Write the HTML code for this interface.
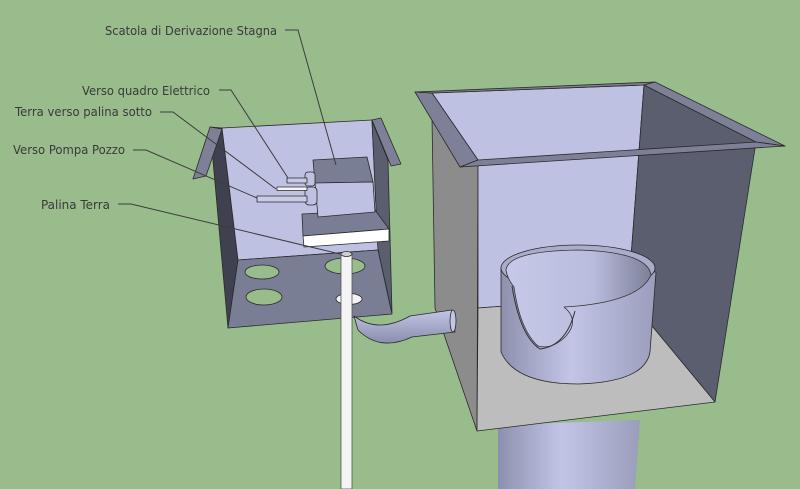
<!DOCTYPE html>
<html><head><meta charset="utf-8"><style>html,body{margin:0;padding:0;background:#98bc8c}svg{display:block}</style></head>
<body>
<svg width="800" height="489" viewBox="0 0 800 489" xmlns="http://www.w3.org/2000/svg">
<defs>
<linearGradient id="cyl" x1="0" x2="1" y1="0" y2="0">
<stop offset="0" stop-color="#8d90ad"/><stop offset="0.45" stop-color="#c2c5e6"/><stop offset="1" stop-color="#9a9dbb"/></linearGradient>
<linearGradient id="cyl2" x1="0" x2="1" y1="0" y2="0">
<stop offset="0" stop-color="#c6c9e8"/><stop offset="0.6" stop-color="#b9bcdc"/><stop offset="1" stop-color="#7d8098"/></linearGradient>
<linearGradient id="hose" x1="0" x2="0" y1="0" y2="1">
<stop offset="0" stop-color="#c3c6e6"/><stop offset="1" stop-color="#8a8dac"/></linearGradient>
</defs>
<rect width="800" height="489" fill="#98bc8c"/>
<g stroke="#2a2a2a" stroke-width="0.8" stroke-linejoin="round">
<!-- right big box -->
<polygon points="498,425 640,420 635,489 498,489" fill="url(#cyl)" stroke="none"/>
<polygon points="432,118 478,165 477,431 435,308" fill="#8c8c8c"/>
<polygon points="432,93 644,85 628,297 478,308 478,160" fill="#bec1e2"/>
<polygon points="644,85 756,142 715,402 628,297" fill="#5b5e6e"/>
<polygon points="478,308 628,297 715,402 477,431" fill="#bdbdbd"/>
<!-- rim strips -->
<polygon points="415,92 432,93 478,160 460,167" fill="#7d8097"/>
<polygon points="415,92 655,82 644,85 432,93" fill="#7d8097"/>
<polygon points="655,82 785,146 756,142 644,85" fill="#7d8097"/>
<polygon points="460,167 478,160 756,142 785,146" fill="#7d8097"/>
<!-- cylinder in box -->
<path d="M501,268 L501,352 Q515,384 578,384 Q645,382 650,352 L656,272 Z" fill="url(#cyl)"/>
<ellipse cx="578" cy="268" rx="77" ry="23" fill="#a9acca"/>
<path d="M506,270 Q508,251 578,250 Q648,252 651,275 Q640,300 578,306 L564,307 Q580,320 566,336 Q552,350 538,346 Q520,330 514,287 Q507,278 506,270 Z" fill="url(#cyl2)" stroke="#333"/>
<path d="M512,286 Q520,336 540,349 Q566,346 575,311" fill="none" stroke="#333" stroke-width="1"/>
<!-- left box -->
<polygon points="210,127 222,128 238,260 228,328" fill="#3f4150"/>
<polygon points="222,128 372,120 378,250 238,260" fill="#bec1e2"/>
<polygon points="372,121 388,160 392,313 378,250" fill="#5b5e6e"/>
<polygon points="210,127 222,129 206,176 193,179" fill="#7d8097"/>
<polygon points="372,120 381,118 401,164 391,166" fill="#7d8097"/>
<polygon points="238,260 378,250 392,314 228,328" fill="#7a7e95"/>
<ellipse cx="262" cy="272" rx="17" ry="7" fill="#98bc8c"/>
<ellipse cx="345" cy="266" rx="20" ry="8" fill="#98bc8c"/>
<ellipse cx="264" cy="297" rx="18" ry="8" fill="#98bc8c"/>
<ellipse cx="349" cy="299" rx="13" ry="5.5" fill="#f4f4f4"/>
<!-- pole -->
<rect x="341" y="253" width="11" height="236" fill="#f4f4f4" stroke="#555"/>
<ellipse cx="346.5" cy="254" rx="5.5" ry="2.5" fill="#cfcfcf"/>
<!-- hose -->
<path d="M354,316 Q378,334 410,316 L452,310 L455,332 L412,337 Q380,352 358,330 Z" fill="url(#hose)"/>
<ellipse cx="453" cy="321" rx="3" ry="11" fill="#c3c6e6"/>
<!-- mounting plate -->
<polygon points="302,214 375,210 389,229 303,236" fill="#7a7e95"/>
<polygon points="303,236 389,229 389,241 304,247" fill="#ffffff"/>
<!-- junction box -->
<polygon points="313,160 367,157 373,182 315,183" fill="#7a7e95"/>
<polygon points="315,183 373,182 375,212 318,217" fill="#bec1e2"/>
<rect x="305" y="172" width="10" height="14" rx="3" fill="#bec1e2"/>
<rect x="305" y="187" width="12" height="18" rx="4" fill="#bec1e2"/>
<rect x="287" y="178" width="20" height="5" fill="#c8cbe8"/>
<rect x="277" y="187" width="30" height="3.5" fill="#f4f4f4"/>
<rect x="257" y="196" width="50" height="6" fill="#c8cbe8"/>
</g>
<!-- leaders -->
<g stroke="#3d3d3d" stroke-width="1" fill="none">
<polyline points="285,30 298,30 336,165"/>
<polyline points="219,90 231,90 288,178"/>
<polyline points="160,112 173,112 276,189"/>
<polyline points="133,150 146,150 257,198"/>
<polyline points="118,204 131,204 340,254"/>
</g>
<g font-family="'DejaVu Sans','Liberation Sans',sans-serif" font-size="12" fill="#3a3a3a">
<text x="105" y="35" textLength="172" lengthAdjust="spacingAndGlyphs">Scatola di Derivazione Stagna</text>
<text x="82" y="95" textLength="128" lengthAdjust="spacingAndGlyphs">Verso quadro Elettrico</text>
<text x="15" y="116" textLength="137" lengthAdjust="spacingAndGlyphs">Terra verso palina sotto</text>
<text x="13" y="154" textLength="112" lengthAdjust="spacingAndGlyphs">Verso Pompa Pozzo</text>
<text x="41" y="209" textLength="69" lengthAdjust="spacingAndGlyphs">Palina Terra</text>
</g>
</svg>
</body></html>
